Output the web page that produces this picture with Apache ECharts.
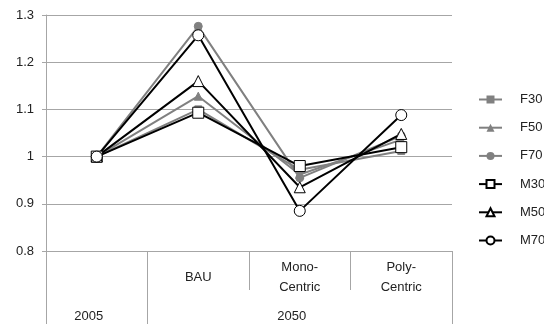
<!DOCTYPE html>
<html><head><meta charset="utf-8">
<script src="https://cdn.jsdelivr.net/npm/echarts@6/dist/echarts.min.js"></script>
<style>html,body{margin:0;padding:0;background:#fff}#c{width:544px;height:324px}</style>
</head><body><div id="c"></div>
<script>
const categories = ['2005', 'BAU', 'Mono-\nCentric', 'Poly-\nCentric'];
const groupLabels = ['2005', '2050'];
const groupCenters = [0.5, 2.5];
const groupBounds = [0, 1, 4];
const yTicks = [0.8, 0.9, 1.0, 1.1, 1.2, 1.3];
const F30 = [1, 1.100, 0.972, 1.012];
const F50 = [1, 1.128, 0.962, 1.036];
const F70 = [1, 1.276, 0.955, 1.044];
const M30 = [1, 1.093, 0.980, 1.020];
const M50 = [1, 1.160, 0.935, 1.048];
const M70 = [1, 1.257, 0.885, 1.088];

const gray = '#808080', grid = '#a6a6a6', txt = '#222';
const font = 'Liberation Sans';
const fs = 13;
function fSeries(name, data, symbol, size) {
  return {name, type: 'line', data, symbol, symbolSize: size, xAxisIndex: 0,
    lineStyle: {color: gray, width: 2}, itemStyle: {color: gray, borderColor: gray}, animation: false};
}
function mSeries(name, data, symbol, size) {
  return {name, type: 'line', data, symbol, symbolSize: size, xAxisIndex: 0,
    lineStyle: {color: '#000', width: 2}, itemStyle: {color: '#fff', borderColor: '#000', borderWidth: 1}, animation: false};
}
const chart = echarts.init(document.getElementById('c'));
chart.setOption({
  animation: false,
  textStyle: {fontFamily: font},
  grid: {left: 46, right: 92, top: 15, bottom: 73},
  legend: {
    orient: 'vertical', left: 478, top: 92, padding: 0, itemWidth: 23, itemHeight: 10, itemGap: 13.2,
    textStyle: {fontSize: fs, color: txt, fontFamily: font, lineHeight: 15, padding: [0, 0, 0, 13]},
    data: ['F30', 'F50', 'F70', 'M30', 'M50', 'M70']
  },
  xAxis: [{
    type: 'category', data: categories, boundaryGap: true,
    axisLine: {lineStyle: {color: grid}},
    axisTick: {show: true, interval: 0, length: 39, lineStyle: {color: grid}},
    axisLabel: {interval: 0, fontSize: fs, color: txt, lineHeight: 20, verticalAlign: 'middle', margin: 26,
      formatter: (v, i) => i === 0 ? '' : v}
  }, {
    type: 'value', min: 0, max: 4, position: 'bottom',
    axisLine: {show: false}, splitLine: {show: false},
    axisTick: {show: true, customValues: groupBounds, length: 73, lineStyle: {color: grid}},
    axisLabel: {customValues: groupCenters, fontSize: fs, color: txt, verticalAlign: 'middle', margin: 65,
      padding: [0, 16, 0, 0],
      formatter: v => groupLabels[groupCenters.indexOf(v)]}
  }],
  yAxis: {
    type: 'value', min: yTicks[0], max: yTicks[yTicks.length - 1], interval: 0.1,
    axisLine: {show: true, lineStyle: {color: grid}},
    axisTick: {show: true, length: 4, lineStyle: {color: grid}},
    splitLine: {lineStyle: {color: grid}},
    axisLabel: {fontSize: fs, color: txt, margin: 12,
      formatter: v => String(Math.round(v * 10) / 10)}
  },
  series: [
    fSeries('F30', F30, 'rect', 7),
    fSeries('F50', F50, 'triangle', 8),
    fSeries('F70', F70, 'circle', 8),
    mSeries('M30', M30, 'rect', 11),
    mSeries('M50', M50, 'triangle', 11),
    mSeries('M70', M70, 'circle', 11)
  ]
});
</script></body></html>
